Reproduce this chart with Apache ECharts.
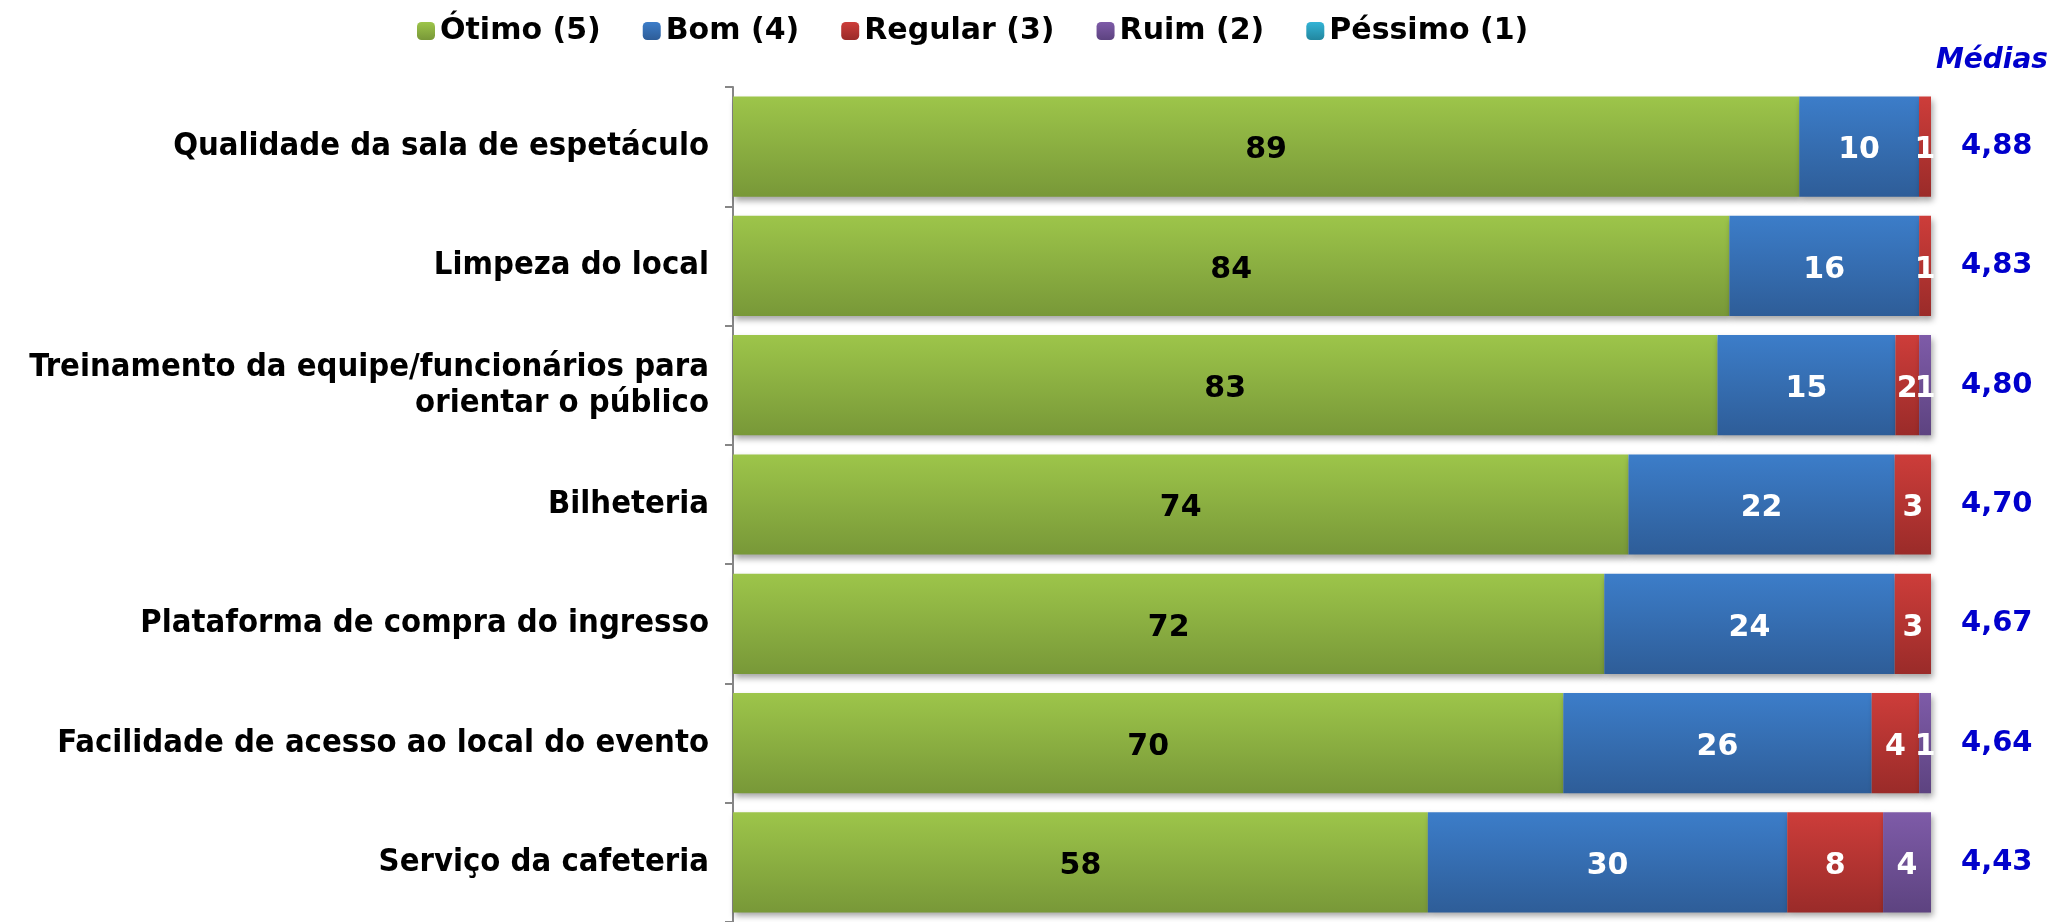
<!DOCTYPE html>
<html>
<head>
<meta charset="utf-8">
<script src="https://cdn.jsdelivr.net/npm/echarts@6/dist/echarts.min.js"></script>
<style>
  html, body { margin: 0; padding: 0; background: #fff; }
  #chart { width: 2056px; height: 922px; }
</style>
</head>
<body>
<div id="chart"></div>
<script>
const categories = [
  'Qualidade da sala de espetáculo',
  'Limpeza do local',
  'Treinamento da equipe/funcionários para\norientar o público',
  'Bilheteria',
  'Plataforma de compra do ingresso',
  'Facilidade de acesso ao local do evento',
  'Serviço da cafeteria'
]
const otimo = [89, 84, 83, 74, 72, 70, 58]
const bom = [10, 16, 15, 22, 24, 26, 30]
const regular = [1, 1, 2, 3, 3, 4, 8]
const ruim = [0, 0, 1, 0, 0, 1, 4]
const pessimo = [0, 0, 0, 0, 0, 0, 0]
const medias = ['4,88', '4,83', '4,80', '4,70', '4,67', '4,64', '4,43']

const FONT = 'DejaVu Sans'
const FONT_NARROW = '"DejaVu Sans Condensed", "DejaVu Sans"'

// barras 100% empilhadas, como no Excel: o rótulo mostra o valor arredondado
const totals = otimo.map((v, i) => v + bom[i] + regular[i] + ruim[i] + pessimo[i])

function grad (top, bottom) {
  return new echarts.graphic.LinearGradient(0, 0, 0, 1, [
    { offset: 0, color: top },
    { offset: 1, color: bottom }
  ])
}

function makeSeries (name, values, top, bottom, labelColor) {
  return {
    name: name,
    type: 'bar',
    stack: 'total',
    barCategoryGap: '16%',
    data: values.map((v, i) => ({ value: v / totals[i] * 100, raw: v })),
    itemStyle: {
      color: grad(top, bottom),
      shadowColor: 'rgba(0,0,0,0.35)',
      shadowBlur: 6,
      shadowOffsetX: 2,
      shadowOffsetY: 4
    },
    label: {
      show: true,
      position: 'inside',
      offset: [0, 4],
      color: labelColor,
      fontFamily: FONT,
      fontWeight: 'bold',
      fontSize: 30,
      formatter: function (p) {
        return p.data.raw ? String(p.data.raw) : ''
      }
    }
  }
}

const chart = echarts.init(document.getElementById('chart'))
chart.setOption({
  animation: false,
  title: {
    text: 'Médias',
    right: 3,
    top: 42,
    textStyle: {
      color: '#0000CC',
      fontFamily: FONT,
      fontStyle: 'italic',
      fontWeight: 'bold',
      fontSize: 28
    }
  },
  legend: {
    left: 412,
    top: 11,
    itemWidth: 18,
    itemHeight: 18,
    itemGap: 42,
    textStyle: {
      color: '#000',
      fontFamily: FONT,
      fontWeight: 'bold',
      fontSize: 30
    }
  },
  grid: {
    left: 733,
    right: 125,
    top: 87,
    height: 841
  },
  xAxis: {
    type: 'value',
    min: 0,
    max: 100,
    show: false
  },
  yAxis: [
    {
      type: 'category',
      inverse: true,
      data: categories,
      axisLine: { show: true, lineStyle: { color: '#868686', width: 2 } },
      axisTick: { show: true, length: 8, lineStyle: { color: '#868686', width: 2 } },
      axisLabel: {
        color: '#000',
        fontFamily: FONT_NARROW,
        fontWeight: 'bold',
        fontSize: 32.5,
        lineHeight: 36,
        align: 'right',
        margin: 24
      }
    },
    {
      type: 'category',
      inverse: true,
      position: 'right',
      data: medias,
      axisLine: { show: false },
      axisTick: { show: false },
      axisLabel: {
        color: '#0000CC',
        fontFamily: FONT,
        fontWeight: 'bold',
        fontSize: 29,
        margin: 30
      }
    }
  ],
  series: [
    makeSeries('Ótimo (5)', otimo, '#9DC54A', '#789838', '#000'),
    makeSeries('Bom (4)', bom, '#3C7DC9', '#2E5D98', '#fff'),
    makeSeries('Regular (3)', regular, '#CD3D3A', '#9A2B29', '#fff'),
    makeSeries('Ruim (2)', ruim, '#7E5BA8', '#5D4380', '#fff'),
    makeSeries('Péssimo (1)', pessimo, '#33B4D6', '#22879F', '#fff')
  ]
})
</script>
</body>
</html>
